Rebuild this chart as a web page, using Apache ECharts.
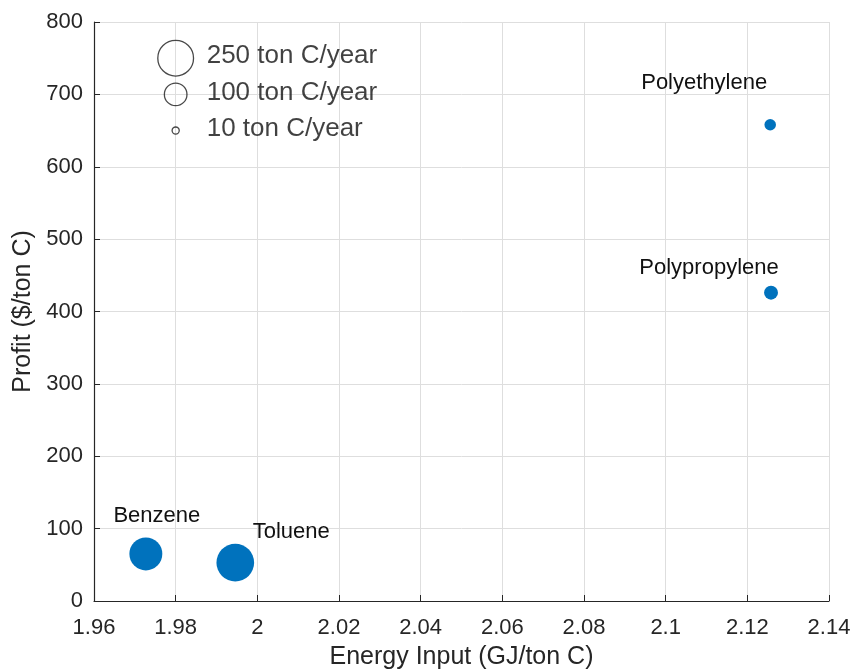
<!DOCTYPE html>
<html>
<head>
<meta charset="utf-8">
<script src="https://cdn.jsdelivr.net/npm/echarts@6/dist/echarts.min.js"></script>
<style>
  html, body { margin: 0; padding: 0; background: #fff; overflow: hidden; }
  #chart { width: 855px; height: 671px; }
</style>
</head>
<body>
<div id="chart"></div>
<script>
// Products: energy input (GJ/ton C), profit ($/ton C), output (ton C/year)
const products = ['Benzene', 'Toluene', 'Polyethylene', 'Polypropylene'];
const energyInput = [1.9727, 1.9946, 2.1256, 2.1258];
const profit = [65, 53, 658, 426];
const output = [212, 278, 26, 38];

// Size key drawn inside the axes
const keyValues = [250, 100, 10];
const keyX = [1.98, 1.98, 1.98];
const keyY = [750, 700, 650];
const keyLabels = ['250 ton C/year', '100 ton C/year', '10 ton C/year'];

const xTicks = ['1.96', '1.98', '2', '2.02', '2.04', '2.06', '2.08', '2.1', '2.12', '2.14'];

// marker diameter grows with the square root of the output (area ~ value)
const sizeOf = v => 2.26 * Math.sqrt(v);

// name label placement around each bubble
const labelOffset = {
  Benzene: [11, -38],
  Toluene: [56, -31],
  Polyethylene: [-66, -42],
  Polypropylene: [-62, -25]
};

const FONT = '"Liberation Sans", Arial, Helvetica, sans-serif';
const AX = '#262626';

const chart = echarts.init(document.getElementById('chart'), null, { renderer: 'canvas' });

chart.setOption({
  animation: false,
  backgroundColor: '#ffffff',
  grid: { left: 94, right: 26, top: 22, bottom: 70, containLabel: false, outerBoundsMode: 'none' },
  xAxis: {
    type: 'value',
    min: 1.96, max: 2.14, interval: 0.02,
    name: 'Energy Input (GJ/ton C)',
    nameLocation: 'middle', nameGap: 44,
    nameTextStyle: { fontFamily: FONT, fontSize: 25, color: AX },
    axisLine: { show: true, onZero: false, lineStyle: { color: AX, width: 1.2 } },
    axisTick: { show: true, inside: true, length: 6, lineStyle: { color: AX } },
    axisLabel: {
      fontFamily: FONT, fontSize: 22, color: AX, margin: 16,
      formatter: v => xTicks[Math.round((v - 1.96) / 0.02)]
    },
    splitLine: { show: true, lineStyle: { color: '#dedede', width: 1 } }
  },
  yAxis: {
    type: 'value',
    min: 0, max: 800, interval: 100,
    name: 'Profit ($/ton C)',
    nameLocation: 'middle', nameGap: 49,
    nameTextStyle: { fontFamily: FONT, fontSize: 25, color: AX },
    axisLine: { show: true, onZero: false, lineStyle: { color: AX, width: 1.2 } },
    axisTick: { show: true, inside: true, length: 6, lineStyle: { color: AX } },
    axisLabel: { fontFamily: FONT, fontSize: 22, color: AX, margin: 11 },
    splitLine: { show: true, lineStyle: { color: '#dedede', width: 1 } }
  },
  series: [
    {
      type: 'scatter',
      data: products.map((p, i) => ({
        name: p,
        value: [energyInput[i], profit[i], output[i]],
        label: { offset: labelOffset[p] }
      })),
      symbol: 'circle',
      symbolSize: d => sizeOf(d[2]),
      itemStyle: { color: '#0072BD', opacity: 1 },
      label: {
        show: true, position: 'inside',
        formatter: p => p.name,
        fontFamily: FONT, fontSize: 22, color: '#111',
        align: 'center', verticalAlign: 'middle'
      },
      z: 3
    },
    {
      type: 'scatter',
      data: keyValues.map((v, i) => ({
        name: keyLabels[i],
        value: [keyX[i], keyY[i], v]
      })),
      symbol: 'circle',
      symbolSize: d => sizeOf(d[2]),
      itemStyle: { color: 'rgba(255,255,255,0)', borderColor: '#1a1a1a', borderWidth: 1.3 },
      label: {
        show: true, position: 'inside', offset: [31, -2],
        formatter: p => p.name,
        fontFamily: FONT, fontSize: 26, color: '#111',
        align: 'left', verticalAlign: 'middle'
      },
      z: 4
    }
  ]
});
</script>
</body>
</html>
